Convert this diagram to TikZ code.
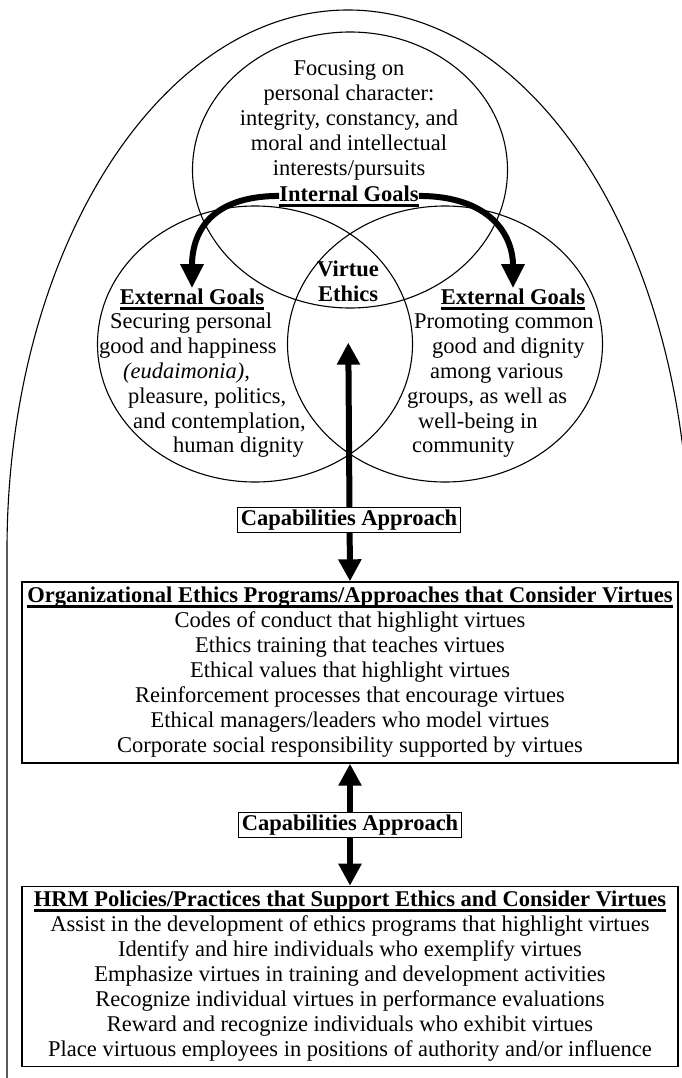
\documentclass[tikz,border=0pt]{standalone}
\usepackage{fontspec}
\setmainfont{Liberation Serif}
\usetikzlibrary{arrows.meta,shapes.geometric,positioning}
\tikzset{
    venn/.style={draw, ellipse, line width=1.1pt, minimum width=315pt, minimum height=276pt, inner sep=0pt},
    txt/.style={inner sep=0pt, font=\fontsize{22.5pt}{25pt}\selectfont},
    listbox/.style={draw, line width=1.4pt, minimum width=656pt, inner sep=0pt, align=center, font=\fontsize{22.5pt}{25pt}\selectfont},
    capbox/.style={draw, fill=white, line width=1.1pt, inner xsep=3.5pt, inner ysep=0pt, minimum height=25pt, font=\fontsize{22.5pt}{25pt}\selectfont\bfseries},
    bigarrow/.style={line width=6pt, -{Triangle[length=24pt, width=22pt]}},
    dblarrow/.style={line width=6pt, {Triangle[length=22pt, width=22pt]}-{Triangle[length=22pt, width=22pt]}}
}
\newcommand{\ulhead}[1]{\setbox0=\hbox{\bfseries #1}\leavevmode\rlap{\vrule width\wd0 height -2.5pt depth 5.5pt}\box0}

\begin{document}
\begin{tikzpicture}[x=1pt, y=-1pt]
\useasboundingbox (0,0) rectangle (682,1078);
% outer frame
\draw[line width=1.1pt] (7,1078) -- (7,550) arc[start angle=180, end angle=349, x radius=341, y radius=540];

% three goal circles
\node[venn] (topc) at (350,170) {};
\node[venn] (leftc) at (255,344) {};
\node[venn] (rightc) at (445,344) {};

% internal goals
\foreach \name/\y/\line in {f1/76/{Focusing on}, f2/101/{personal character:}, f3/126/{integrity, constancy, and}, f4/151/{moral and intellectual}, f5/176/{interests/pursuits}}
  \node[txt, anchor=base] (\name) at (349,\y) {\line};
\node[txt, anchor=base] (ig) at (349,201) {\ulhead{Internal Goals}};

% external goals, left
\node[txt, anchor=base] (egl) at (192,304) {\ulhead{External Goals}};
\foreach \name/\x/\y/\line in {el1/110/328/{Securing personal}, el2/99/353/{good and happiness}, el3/123/378/{\textit{(eudaimonia),}}, el4/128/403/{pleasure, politics,}, el5/133/428/{and contemplation,}, el6/173/452/{human dignity}}
  \node[txt, anchor=base west] (\name) at (\x,\y) {\line};

% external goals, right
\node[txt, anchor=base] (egr) at (513,304) {\ulhead{External Goals}};
\foreach \name/\x/\y/\line in {er1/414/328/{Promoting common}, er2/432/353/{good and dignity}, er3/430/378/{among various}, er4/407/403/{groups, as well as}, er5/418/428/{well-being in}, er6/412/452/{community}}
  \node[txt, anchor=base west] (\name) at (\x,\y) {\line};

% centre
\node[txt, align=center, font=\fontsize{22.5pt}{25pt}\selectfont\bfseries] (ve) at (348,281) {Virtue\\Ethics};

% programs and practices
\node[listbox, minimum height=181pt] (org) at (350,672.5) {\ulhead{Organizational Ethics Programs/Approaches that Consider Virtues}\\
  Codes of conduct that highlight virtues\\
  Ethics training that teaches virtues\\
  Ethical values that highlight virtues\\
  Reinforcement processes that encourage virtues\\
  Ethical managers/leaders who model virtues\\
  Corporate social responsibility supported by virtues};
\node[listbox, minimum height=180pt, below=122pt of org] (hrm) {\ulhead{HRM Policies/Practices that Support Ethics and Consider Virtues}\\
  Assist in the development of ethics programs that highlight virtues\\
  Identify and hire individuals who exemplify virtues\\
  Emphasize virtues in training and development activities\\
  Recognize individual virtues in performance evaluations\\
  Reward and recognize individuals who exhibit virtues\\
  Place virtuous employees in positions of authority and/or influence};

% arrows
\draw[bigarrow] (ig.west) .. controls (208,196) and (192,235) .. (egl.north);
\draw[bigarrow] (ig.east) .. controls (490,196) and (513,235) .. (egr.north);
\draw[dblarrow, shorten <=41pt] (ve.south) -- (org.north);
\draw[dblarrow] (org.south) -- (hrm.north);

\node[capbox] (cap1) at (349,520) {Capabilities Approach};
\path (org.south) -- (hrm.north) node[capbox, midway] (cap2) {Capabilities Approach};
\end{tikzpicture}
\end{document}
